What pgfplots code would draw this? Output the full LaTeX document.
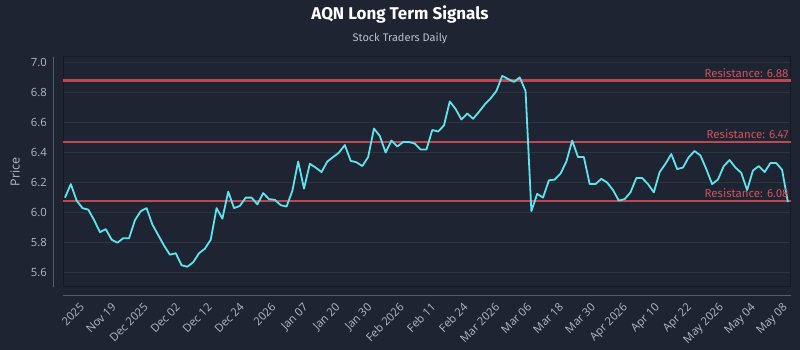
\documentclass[border=0pt]{standalone}
\usepackage{pgfplots}
\pgfplotsset{compat=1.18}
\usepackage{pgfplotstable}
\usepackage{fontspec}
\setmainfont{Fira Sans}
\newfontfamily\tickfont{Open Sans}

\definecolor{bgc}{RGB}{30,36,50}
\definecolor{gridc}{RGB}{44,51,67}
\definecolor{framec}{RGB}{20,25,36}
\definecolor{spinec}{RGB}{85,92,108}
\definecolor{tickc}{RGB}{178,186,198}
\definecolor{pricec}{RGB}{95,228,238}
\definecolor{resc}{RGB}{190,72,82}
\definecolor{restext}{RGB}{208,82,90}

% daily closing prices, trading-day index
\pgfplotstableread{
i price
0 6.10
1 6.19
2 6.08
3 6.03
4 6.02
5 5.95
6 5.87
7 5.89
8 5.82
9 5.80
10 5.83
11 5.83
12 5.95
13 6.01
14 6.03
15 5.92
16 5.85
17 5.78
18 5.72
19 5.73
20 5.65
21 5.64
22 5.67
23 5.73
24 5.76
25 5.82
26 6.03
27 5.96
28 6.14
29 6.03
30 6.045
31 6.10
32 6.10
33 6.055
34 6.13
35 6.09
36 6.085
37 6.05
38 6.04
39 6.145
40 6.34
41 6.16
42 6.325
43 6.30
44 6.27
45 6.34
46 6.37
47 6.40
48 6.45
49 6.345
50 6.335
51 6.31
52 6.37
53 6.56
54 6.51
55 6.40
56 6.48
57 6.44
58 6.47
59 6.47
60 6.46
61 6.42
62 6.42
63 6.55
64 6.54
65 6.58
66 6.74
67 6.69
68 6.62
69 6.66
70 6.625
71 6.67
72 6.72
73 6.76
74 6.81
75 6.91
76 6.89
77 6.87
78 6.90
79 6.81
80 6.01
81 6.125
82 6.10
83 6.215
84 6.22
85 6.26
86 6.34
87 6.48
88 6.37
89 6.37
90 6.19
91 6.19
92 6.225
93 6.20
94 6.15
95 6.08
96 6.09
97 6.135
98 6.23
99 6.23
100 6.19
101 6.135
102 6.27
103 6.325
104 6.39
105 6.29
106 6.30
107 6.37
108 6.41
109 6.38
110 6.29
111 6.19
112 6.22
113 6.31
114 6.35
115 6.30
116 6.265
117 6.15
118 6.28
119 6.31
120 6.27
121 6.33
122 6.33
123 6.285
124 6.07
}\pricetable

\begin{document}
\begin{tikzpicture}
\fill[bgc] (0pt,0pt) rectangle (800pt,350pt);
\useasboundingbox (0pt,0pt) rectangle (800pt,350pt);

\node[font=\fontsize{17}{20}\selectfont\bfseries, text=white] at (400pt,335pt) {AQN Long Term Signals};
\node[font=\fontsize{11}{13}\selectfont, text=tickc!90!white] at (400pt,312pt) {Stock Traders Daily};

% detached spines
\draw[spinec, line width=1pt] (53pt,63pt) -- (53pt,293pt);
\draw[spinec, line width=1pt] (63pt,54pt) -- (790.7pt,54pt);

\begin{axis}[
  at={(63pt,63pt)}, anchor=south west,
  scale only axis, width=727.7pt, height=230pt,
  xmin=-0.34, xmax=124.48, ymin=5.505, ymax=7.036,
  axis background/.style={fill=bgc},
  axis line style={draw=framec, line width=1pt},
  ytick={5.6,5.8,6.0,6.2,6.4,6.6,6.8,7.0},
  ymajorgrids, grid style={gridc, line width=0.8pt},
  major tick length=0pt,
  tick label style={font=\tickfont\fontsize{11.3}{13}\selectfont, text=tickc},
  /pgf/number format/assume math mode=true,
  yticklabel style={/pgf/number format/fixed, /pgf/number format/fixed zerofill, /pgf/number format/precision=1, anchor=east, inner sep=0pt, xshift=-16pt},
  xtick={3.10,8.58,14.06,19.54,25.02,30.50,35.98,41.46,46.94,52.42,57.90,63.38,68.86,74.34,79.82,85.30,90.78,96.26,101.74,107.22,112.70,118.18,123.66},
  xticklabels={2025,Nov 19,Dec 2025,Dec 02,Dec 12,Dec 24,2026,Jan 07,Jan 20,Jan 30,Feb 2026,Feb 11,Feb 24,Mar 2026,Mar 06,Mar 18,Mar 30,Apr 2026,Apr 10,Apr 22,May 2026,May 04,May 08},
  xticklabel style={yshift=-15pt, xshift=-4pt, rotate=45, anchor=north east, inner sep=0pt},
  ylabel={Price},
  every axis y label/.style={at={(rel axis cs:0,0.5)}, xshift=-48pt, anchor=center, rotate=90, font=\tickfont\fontsize{12.5}{14}\selectfont, text=tickc},
  clip=false,
]
\addplot[resc, line width=2.2pt] coordinates {(-0.34,6.88) (124.48,6.88)};
\addplot[resc, line width=2.2pt] coordinates {(-0.34,6.47) (124.48,6.47)};
\addplot[resc, line width=2.2pt] coordinates {(-0.34,6.08) (124.48,6.08)};
\addplot[pricec, line width=1.8pt, line join=round] table[x=i, y=price] {\pricetable};
\node[anchor=south east, inner sep=0pt, xshift=-2pt, yshift=3pt, text=restext, font=\fontsize{11.5}{13}\selectfont] at (axis cs:124.48,6.88) {Resistance: 6.88};
\node[anchor=south east, inner sep=0pt, xshift=-2pt, yshift=3pt, text=restext, font=\fontsize{11.5}{13}\selectfont] at (axis cs:124.48,6.47) {Resistance: 6.47};
\node[anchor=south east, inner sep=0pt, xshift=-2pt, yshift=3pt, text=restext, font=\fontsize{11.5}{13}\selectfont] at (axis cs:124.48,6.08) {Resistance: 6.08};
\end{axis}
\end{tikzpicture}
\end{document}
